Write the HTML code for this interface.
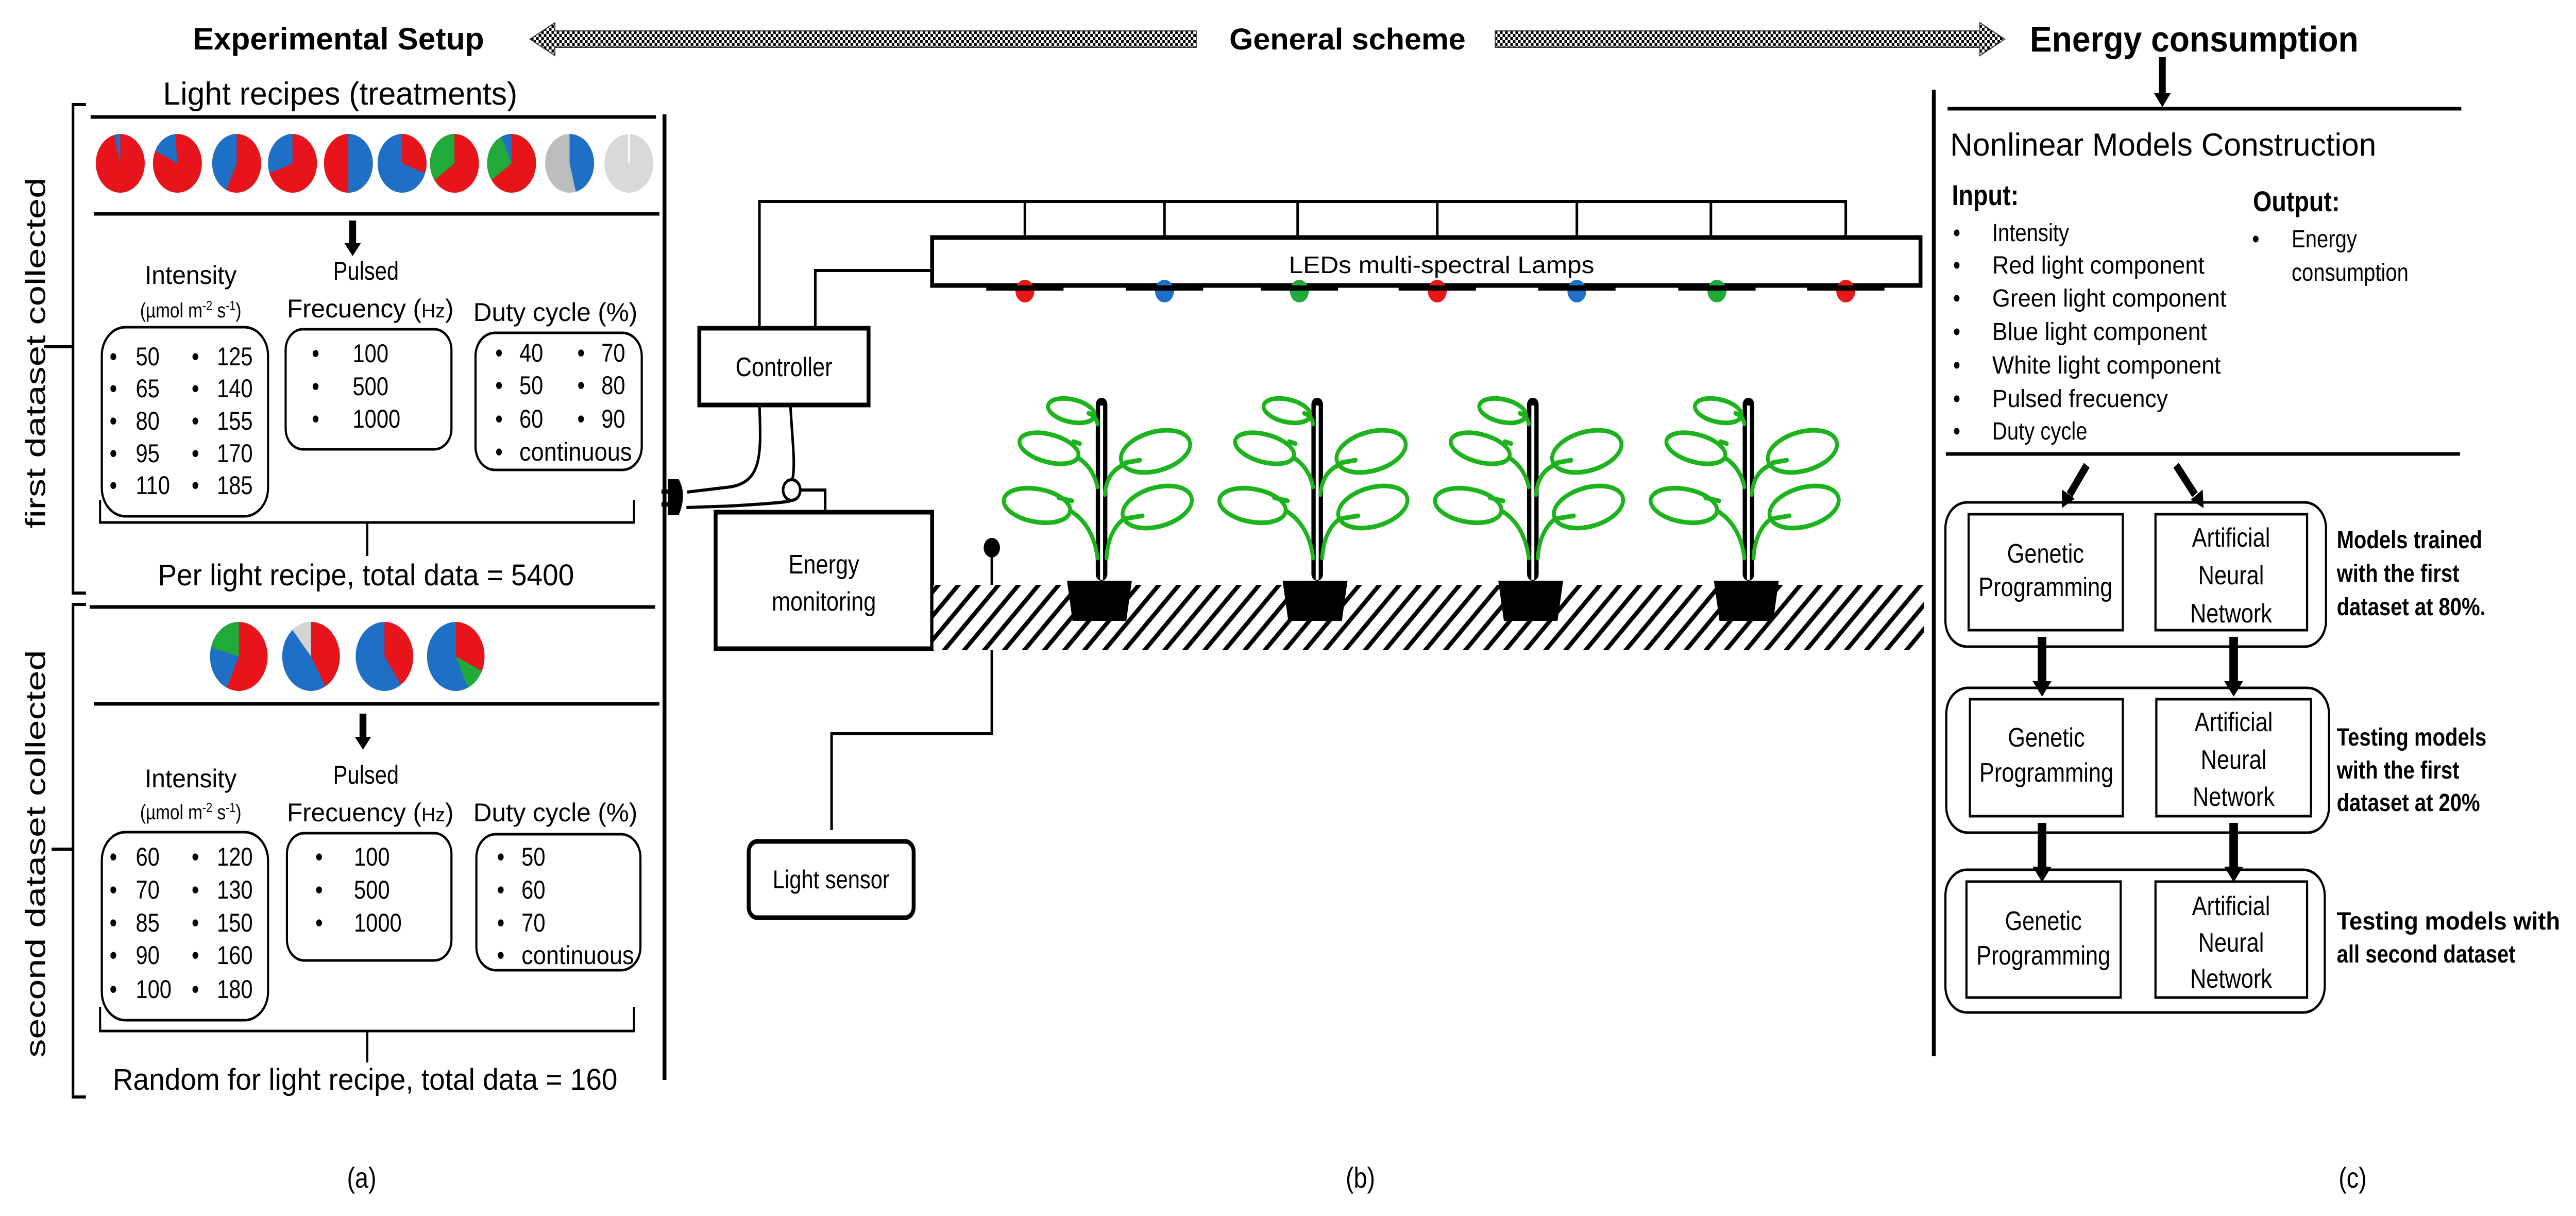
<!DOCTYPE html>
<html><head><meta charset="utf-8"><style>
html,body{margin:0;padding:0;background:#fff;overflow:hidden;width:100%;height:100%;}
svg{display:block;width:100vw;height:100vh;}
text{font-family:"Liberation Sans",Arial,sans-serif;fill:#000;}
</style></head><body>
<svg viewBox="0 0 5997 2360" preserveAspectRatio="none">
<defs>
<pattern id="chk" width="12" height="12" patternUnits="userSpaceOnUse">
<rect width="12" height="12" fill="#fff"/><rect width="6" height="6" fill="#000"/><rect x="6" y="6" width="6" height="6" fill="#000"/>
</pattern>
<pattern id="hatch" width="33" height="33" patternUnits="userSpaceOnUse" patternTransform="rotate(45)">
<rect width="33" height="33" fill="#fff"/><rect x="0" y="0" width="9" height="33" fill="#000"/>
</pattern>
<g id="plant">
<rect x="-13" y="-355" width="27" height="355" rx="13" fill="#000"/>
<rect x="-3" y="-340" width="7" height="338" fill="#fff"/>
<polygon points="-80,0 71,0 58,78 -67,78" fill="#000"/>
<g fill="none" stroke="#1db31d" stroke-width="9" stroke-linecap="round">
<path d="M-9,-44 Q-19,-109 -73,-136"/>
<path d="M12,-44 Q16,-98 54,-121"/>
<path d="M-9,-182 Q-19,-220 -55,-239"/>
<path d="M8,-167 Q12,-210 50,-224"/>
<path d="M-9,-304 Q-12,-320 -30,-325"/>
<ellipse cx="-70" cy="-330" rx="55" ry="22" transform="rotate(10 -70 -330)"/>
<ellipse cx="-122" cy="-257" rx="70" ry="27" transform="rotate(12 -122 -257)"/>
<ellipse cx="126" cy="-251" rx="82" ry="38" transform="rotate(-12 126 -251)"/>
<ellipse cx="-150" cy="-146" rx="78" ry="32" transform="rotate(8 -150 -146)"/>
<ellipse cx="130" cy="-143" rx="82" ry="38" transform="rotate(-12 130 -143)"/>
<path d="M-100,-161 L-68,-155"/><path d="M-65,-270 L-50,-266"/>
<path d="M56,-229 L90,-234"/><path d="M60,-121 L96,-126"/>
</g>
</g>
</defs>
<rect width="5997" height="2360" fill="#fff"/>

<text x="788" y="96" font-size="60" font-weight="bold" text-anchor="middle" textLength="678" lengthAdjust="spacingAndGlyphs">Experimental Setup</text>
<text x="3137" y="96" font-size="58" font-weight="bold" text-anchor="middle" textLength="550" lengthAdjust="spacingAndGlyphs">General scheme</text>
<text x="5108" y="100" font-size="70" font-weight="bold" text-anchor="middle" textLength="765" lengthAdjust="spacingAndGlyphs">Energy consumption</text>
<polygon points="1234,76 1292,44 1292,60 2785,60 2785,92 1292,92 1292,108" fill="url(#chk)" stroke="#333" stroke-width="2"/>
<polygon points="4667,76 4609,44 4609,60 3481,60 3481,92 4609,92 4609,108" fill="url(#chk)" stroke="#333" stroke-width="2"/>

<text x="792" y="203" font-size="62" text-anchor="middle" textLength="825" lengthAdjust="spacingAndGlyphs">Light recipes (treatments)</text>
<path d="M200,203 L170,203 L170,1151 L200,1151 M170,673 L102,673" fill="none" stroke="#000" stroke-width="6"/>
<path d="M200,1173 L170,1173 L170,2129 L200,2129 M170,1648 L120,1648" fill="none" stroke="#000" stroke-width="6"/>
<text transform="translate(105,685) rotate(-90)" font-size="64" text-anchor="middle" textLength="681" lengthAdjust="spacingAndGlyphs">first dataset collected</text>
<text transform="translate(105,1657) rotate(-90)" font-size="64" text-anchor="middle" textLength="791" lengthAdjust="spacingAndGlyphs">second dataset collected</text>
<line x1="211" y1="227" x2="1527" y2="227" stroke="#000" stroke-width="7"/>
<line x1="1547" y1="222" x2="1547" y2="2096" stroke="#000" stroke-width="9"/>
<line x1="219" y1="415" x2="1535" y2="415" stroke="#000" stroke-width="7"/>
<line x1="209" y1="1178" x2="1525" y2="1178" stroke="#000" stroke-width="7"/>
<line x1="219" y1="1366" x2="1535" y2="1366" stroke="#000" stroke-width="7"/>
<polygon points="813,428 829,428 829,472 840,472 821,497 802,472 813,472" fill="#000"/>
<polygon points="837,1385 853,1385 853,1430 864,1430 845,1455 826,1430 837,1430" fill="#000"/>

<!-- pies row 1 -->
<g fill="none" stroke-width="57">
<circle cx="280" cy="317" r="57" fill="#e8141b" stroke="none"/>
<circle cx="280" cy="317" r="28.5" stroke="#1e6fc6" pathLength="360" stroke-dasharray="15 360" transform="rotate(255 280 317)"/>
<circle cx="413" cy="317" r="57" fill="#e8141b" stroke="none"/>
<circle cx="413" cy="317" r="28.5" stroke="#1e6fc6" pathLength="360" stroke-dasharray="60 360" transform="rotate(205 413 317)"/>
<circle cx="551" cy="317" r="57" fill="#e8141b" stroke="none"/>
<circle cx="551" cy="317" r="28.5" stroke="#1e6fc6" pathLength="360" stroke-dasharray="155 360" transform="rotate(115 551 317)"/>
<circle cx="681" cy="317" r="57" fill="#e8141b" stroke="none"/>
<circle cx="681" cy="317" r="28.5" stroke="#1e6fc6" pathLength="360" stroke-dasharray="110 360" transform="rotate(160 681 317)"/>
<circle cx="811" cy="317" r="57" fill="#e8141b" stroke="none"/>
<circle cx="811" cy="317" r="28.5" stroke="#1e6fc6" pathLength="360" stroke-dasharray="180 360" transform="rotate(-90 811 317)"/>
<circle cx="936" cy="317" r="57" fill="#1e6fc6" stroke="none"/>
<circle cx="936" cy="317" r="28.5" stroke="#e8141b" pathLength="360" stroke-dasharray="110 360" transform="rotate(-90 936 317)"/>
<circle cx="1058" cy="317" r="57" fill="#e8141b" stroke="none"/>
<circle cx="1058" cy="317" r="28.5" stroke="#1faa3a" pathLength="360" stroke-dasharray="125 360" transform="rotate(145 1058 317)"/>
<circle cx="1191" cy="317" r="57" fill="#e8141b" stroke="none"/>
<circle cx="1191" cy="317" r="28.5" stroke="#1faa3a" pathLength="360" stroke-dasharray="100 360" transform="rotate(145 1191 317)"/>
<circle cx="1191" cy="317" r="28.5" stroke="#1e6fc6" pathLength="360" stroke-dasharray="25 360" transform="rotate(245 1191 317)"/>
<circle cx="1326" cy="317" r="57" fill="#bdbdbd" stroke="none"/>
<circle cx="1326" cy="317" r="28.5" stroke="#1e6fc6" pathLength="360" stroke-dasharray="165 360" transform="rotate(-90 1326 317)"/>
<circle cx="1464" cy="317" r="57" fill="#d9d9d9" stroke="none"/>
</g>
<line x1="1464" y1="317" x2="1464" y2="260" stroke="#fff" stroke-width="4"/>
<!-- pies row 2 -->
<g fill="none" stroke-width="67">
<circle cx="556" cy="1274" r="67" fill="#e8141b" stroke="none"/>
<circle cx="556" cy="1274" r="33.5" stroke="#1e6fc6" pathLength="360" stroke-dasharray="80 360" transform="rotate(115 556 1274)"/>
<circle cx="556" cy="1274" r="33.5" stroke="#1faa3a" pathLength="360" stroke-dasharray="75 360" transform="rotate(195 556 1274)"/>
<circle cx="724" cy="1274" r="67" fill="#1e6fc6" stroke="none"/>
<circle cx="724" cy="1274" r="33.5" stroke="#e8141b" pathLength="360" stroke-dasharray="150 360" transform="rotate(-90 724 1274)"/>
<circle cx="724" cy="1274" r="33.5" stroke="#d4d4d4" pathLength="360" stroke-dasharray="40 360" transform="rotate(230 724 1274)"/>
<circle cx="895" cy="1274" r="67" fill="#1e6fc6" stroke="none"/>
<circle cx="895" cy="1274" r="33.5" stroke="#e8141b" pathLength="360" stroke-dasharray="145 360" transform="rotate(-90 895 1274)"/>
<circle cx="1061" cy="1274" r="67" fill="#1e6fc6" stroke="none"/>
<circle cx="1061" cy="1274" r="33.5" stroke="#e8141b" pathLength="360" stroke-dasharray="115 360" transform="rotate(-90 1061 1274)"/>
<circle cx="1061" cy="1274" r="33.5" stroke="#1faa3a" pathLength="360" stroke-dasharray="40 360" transform="rotate(25 1061 1274)"/>
</g>

<g font-size="50" text-anchor="middle">
<text x="444" y="551" textLength="214" lengthAdjust="spacingAndGlyphs">Intensity</text>
<text x="444" y="616" font-size="40">(µmol m<tspan font-size="26" dy="-14">-2</tspan><tspan dy="14"> s</tspan><tspan font-size="26" dy="-14">-1</tspan><tspan dy="14">)</tspan></text>
<text x="852" y="543">Pulsed</text>
<text x="862" y="616" textLength="388" lengthAdjust="spacingAndGlyphs">Frecuency (<tspan font-size="38">Hz</tspan>)</text>
<text x="1293" y="623" textLength="382" lengthAdjust="spacingAndGlyphs">Duty cycle (%)</text>
<text x="444" y="1528" textLength="214" lengthAdjust="spacingAndGlyphs">Intensity</text>
<text x="444" y="1590" font-size="40">(µmol m<tspan font-size="26" dy="-14">-2</tspan><tspan dy="14"> s</tspan><tspan font-size="26" dy="-14">-1</tspan><tspan dy="14">)</tspan></text>
<text x="852" y="1521">Pulsed</text>
<text x="862" y="1594" textLength="388" lengthAdjust="spacingAndGlyphs">Frecuency (<tspan font-size="38">Hz</tspan>)</text>
<text x="1293" y="1594" textLength="382" lengthAdjust="spacingAndGlyphs">Duty cycle (%)</text>
</g>
<g fill="none" stroke="#000" stroke-width="5">
<rect x="237" y="635" width="387" height="367" rx="55"/>
<rect x="665" y="639" width="386" height="233" rx="40"/>
<rect x="1107" y="646" width="387" height="266" rx="45"/>
<rect x="237" y="1615" width="387" height="365" rx="55"/>
<rect x="668" y="1617" width="383" height="247" rx="40"/>
<rect x="1109" y="1619" width="382" height="264" rx="45"/>
<path d="M233,970 L233,1014 L1476,1014 L1476,970 M855,1014 L855,1079"/>
<path d="M233,1954 L233,2001 L1476,2001 L1476,1954 M855,2001 L855,2062"/>
</g>
<g font-size="50">
<text x="255" y="709">•</text><text x="316" y="709">50</text><text x="446" y="709">•</text><text x="505" y="709">125</text>
<text x="255" y="771">•</text><text x="316" y="771">65</text><text x="446" y="771">•</text><text x="505" y="771">140</text>
<text x="255" y="834">•</text><text x="316" y="834">80</text><text x="446" y="834">•</text><text x="505" y="834">155</text>
<text x="255" y="897">•</text><text x="316" y="897">95</text><text x="446" y="897">•</text><text x="505" y="897">170</text>
<text x="255" y="959">•</text><text x="316" y="959">110</text><text x="446" y="959">•</text><text x="505" y="959">185</text>
<text x="726" y="703">•</text><text x="821" y="703">100</text>
<text x="726" y="767">•</text><text x="821" y="767">500</text>
<text x="726" y="830">•</text><text x="821" y="830">1000</text>
<text x="1153" y="702">•</text><text x="1209" y="702">40</text><text x="1344" y="702">•</text><text x="1400" y="702">70</text>
<text x="1153" y="765">•</text><text x="1209" y="765">50</text><text x="1344" y="765">•</text><text x="1400" y="765">80</text>
<text x="1153" y="830">•</text><text x="1209" y="830">60</text><text x="1344" y="830">•</text><text x="1400" y="830">90</text>
<text x="1153" y="894">•</text><text x="1209" y="894" textLength="262" lengthAdjust="spacingAndGlyphs">continuous</text>

<text x="255" y="1680">•</text><text x="316" y="1680">60</text><text x="446" y="1680">•</text><text x="505" y="1680">120</text>
<text x="255" y="1744">•</text><text x="316" y="1744">70</text><text x="446" y="1744">•</text><text x="505" y="1744">130</text>
<text x="255" y="1808">•</text><text x="316" y="1808">85</text><text x="446" y="1808">•</text><text x="505" y="1808">150</text>
<text x="255" y="1871">•</text><text x="316" y="1871">90</text><text x="446" y="1871">•</text><text x="505" y="1871">160</text>
<text x="255" y="1937">•</text><text x="316" y="1937">100</text><text x="446" y="1937">•</text><text x="505" y="1937">180</text>
<text x="734" y="1680">•</text><text x="824" y="1680">100</text>
<text x="734" y="1744">•</text><text x="824" y="1744">500</text>
<text x="734" y="1808">•</text><text x="824" y="1808">1000</text>
<text x="1157" y="1680">•</text><text x="1214" y="1680">50</text>
<text x="1157" y="1744">•</text><text x="1214" y="1744">60</text>
<text x="1157" y="1808">•</text><text x="1214" y="1808">70</text>
<text x="1157" y="1871">•</text><text x="1214" y="1871" textLength="262" lengthAdjust="spacingAndGlyphs">continuous</text>
</g>
<text x="852" y="1136" font-size="58" text-anchor="middle" textLength="969" lengthAdjust="spacingAndGlyphs">Per light recipe, total data = 5400</text>
<text x="850" y="2115" font-size="58" text-anchor="middle" textLength="1175" lengthAdjust="spacingAndGlyphs">Random for light recipe, total data = 160</text>

<text x="842" y="2305" font-size="56" text-anchor="middle">(a)</text>
<text x="3167" y="2305" font-size="56" text-anchor="middle">(b)</text>
<text x="5477" y="2305" font-size="56" text-anchor="middle">(c)</text>

<g fill="none" stroke="#000" stroke-width="6">
<path d="M1768,635 L1768,391 L4297,391 L4297,461"/>
<path d="M2386,391 V461 M2711,391 V461 M3021,391 V461 M3346,391 V461 M3671,391 V461 M3983,391 V461"/>
<path d="M2170,525 L1898,525 L1898,637"/>
<path d="M1768,786 C1772,880 1775,935 1700,945 L1600,955"/>
<path d="M1840,786 C1845,860 1852,900 1845,930"/>
<path d="M1598,985 L1700,982 C1780,978 1830,975 1840,972"/>
<circle cx="1843" cy="951" r="20" fill="#fff"/>
<path d="M1863,951 L1921,951 L1921,994"/>
<path d="M2309,1063 L2309,1424 L1936,1424 L1936,1611"/>
</g>
<path d="M1555,930 L1580,930 Q1600,960 1580,1000 L1555,1000 Z" fill="#000"/>
<rect x="1540" y="950" width="18" height="8" fill="#000"/><rect x="1540" y="975" width="18" height="8" fill="#000"/>
<rect x="2170" y="461" width="2301" height="93" fill="#fff" stroke="#000" stroke-width="9"/>
<text x="3356" y="530" font-size="46" text-anchor="middle" textLength="711" lengthAdjust="spacingAndGlyphs">LEDs multi-spectral Lamps</text>
<g>
<circle cx="2386" cy="565" r="22" fill="#e81818"/>
<circle cx="2711" cy="565" r="22" fill="#1e6fc6"/>
<circle cx="3025" cy="565" r="22" fill="#1faa3a"/>
<circle cx="3346" cy="565" r="22" fill="#e81818"/>
<circle cx="3671" cy="565" r="22" fill="#1e6fc6"/>
<circle cx="3997" cy="565" r="22" fill="#1faa3a"/>
<circle cx="4297" cy="565" r="22" fill="#e81818"/>
<rect x="2296" y="554" width="180" height="10" fill="#000"/>
<rect x="2621" y="554" width="180" height="10" fill="#000"/>
<rect x="2935" y="554" width="180" height="10" fill="#000"/>
<rect x="3256" y="554" width="180" height="10" fill="#000"/>
<rect x="3581" y="554" width="180" height="10" fill="#000"/>
<rect x="3907" y="554" width="180" height="10" fill="#000"/>
<rect x="4207" y="554" width="180" height="10" fill="#000"/>
</g>
<rect x="1628" y="637" width="394" height="149" fill="#fff" stroke="#000" stroke-width="9"/>
<text x="1825" y="730" font-size="52" text-anchor="middle">Controller</text>
<rect x="1666" y="994" width="504" height="265" fill="#fff" stroke="#000" stroke-width="9"/>
<text x="1918" y="1113" font-size="52" text-anchor="middle">Energy</text>
<text x="1918" y="1185" font-size="52" text-anchor="middle">monitoring</text>
<rect x="2173" y="1135" width="2306" height="127" fill="url(#hatch)"/>
<circle cx="2309" cy="1063" r="19" fill="#000"/>
<rect x="1743" y="1633" width="384" height="148" rx="20" fill="#fff" stroke="#000" stroke-width="9"/>
<text x="1935" y="1724" font-size="50" text-anchor="middle">Light sensor</text>
<use href="#plant" x="2564" y="1127"/>
<use href="#plant" x="3066" y="1127"/>
<use href="#plant" x="3568" y="1127"/>
<use href="#plant" x="4070" y="1127"/>

<line x1="4502" y1="174" x2="4502" y2="2050" stroke="#000" stroke-width="9"/>
<polygon points="5026,111 5042,111 5042,180 5054,180 5034,208 5014,180 5026,180" fill="#000"/>
<line x1="4534" y1="211" x2="5730" y2="211" stroke="#000" stroke-width="7"/>
<text x="4540" y="302" font-size="62" textLength="992" lengthAdjust="spacingAndGlyphs">Nonlinear Models Construction</text>
<text x="4544" y="398" font-size="56" font-weight="bold">Input:</text>
<text x="5245" y="410" font-size="56" font-weight="bold">Output:</text>
<g font-size="48">
<text x="4547" y="468">•</text><text x="4638" y="468">Intensity</text>
<text x="4547" y="531">•</text><text x="4638" y="531" textLength="494" lengthAdjust="spacingAndGlyphs">Red light component</text>
<text x="4547" y="595">•</text><text x="4638" y="595" textLength="545" lengthAdjust="spacingAndGlyphs">Green light component</text>
<text x="4547" y="660">•</text><text x="4638" y="660" textLength="500" lengthAdjust="spacingAndGlyphs">Blue light component</text>
<text x="4547" y="725">•</text><text x="4638" y="725" textLength="532" lengthAdjust="spacingAndGlyphs">White light component</text>
<text x="4547" y="790">•</text><text x="4638" y="790" textLength="409" lengthAdjust="spacingAndGlyphs">Pulsed frecuency</text>
<text x="4547" y="853">•</text><text x="4638" y="853">Duty cycle</text>
<text x="5243" y="480">•</text><text x="5335" y="480">Energy</text>
<text x="5335" y="545">consumption</text>
</g>
<line x1="4530" y1="881" x2="5727" y2="881" stroke="#000" stroke-width="7"/>
<g stroke="#000" stroke-width="16">
<line x1="4858" y1="903" x2="4818" y2="960"/>
<line x1="5066" y1="903" x2="5110" y2="960"/>
</g>
<polygon points="4800,986 4800,950 4830,968" fill="#000"/>
<polygon points="5130,986 5100,970 5128,950" fill="#000"/>
<g fill="none" stroke="#000" stroke-width="5">
<rect x="4529" y="975" width="886" height="280" rx="50"/>
<rect x="4583" y="998" width="359" height="225"/>
<rect x="5018" y="998" width="353" height="225"/>
<rect x="4531" y="1335" width="891" height="281" rx="50"/>
<rect x="4586" y="1357" width="356" height="227"/>
<rect x="5020" y="1357" width="360" height="227"/>
<rect x="4529" y="1688" width="883" height="277" rx="50"/>
<rect x="4578" y="1711" width="359" height="225"/>
<rect x="5018" y="1711" width="353" height="225"/>
</g>
<g fill="#000">
<rect x="4744" y="1236" width="20" height="90"/><polygon points="4732,1322 4776,1322 4754,1352"/>
<rect x="5190" y="1236" width="20" height="90"/><polygon points="5178,1322 5222,1322 5200,1352"/>
<rect x="4744" y="1597" width="20" height="88"/><polygon points="4732,1682 4776,1682 4754,1712"/>
<rect x="5190" y="1597" width="20" height="88"/><polygon points="5178,1682 5222,1682 5200,1712"/>
</g>
<g font-size="52" text-anchor="middle">
<text x="4762" y="1092">Genetic</text><text x="4762" y="1157">Programming</text>
<text x="5194" y="1061">Artificial</text><text x="5194" y="1134">Neural</text><text x="5194" y="1208">Network</text>
<text x="4764" y="1449">Genetic</text><text x="4764" y="1517">Programming</text>
<text x="5200" y="1419">Artificial</text><text x="5200" y="1492">Neural</text><text x="5200" y="1564">Network</text>
<text x="4757" y="1805">Genetic</text><text x="4757" y="1872">Programming</text>
<text x="5194" y="1776">Artificial</text><text x="5194" y="1847">Neural</text><text x="5194" y="1917">Network</text>
</g>
<g font-size="48" font-weight="bold">
<text x="5440" y="1064">Models trained</text>
<text x="5440" y="1129">with the first</text>
<text x="5440" y="1194">dataset at 80%.</text>
<text x="5440" y="1447">Testing models</text>
<text x="5440" y="1511">with the first</text>
<text x="5440" y="1574">dataset at 20%</text>
<text x="5440" y="1804" textLength="520" lengthAdjust="spacingAndGlyphs">Testing models with</text>
<text x="5440" y="1868">all second dataset</text>
</g>
</svg>
</body></html>
